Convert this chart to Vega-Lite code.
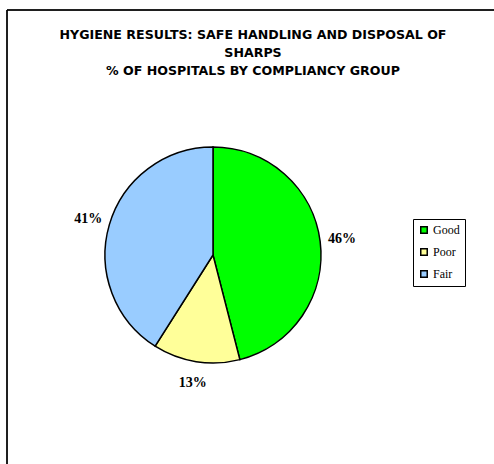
{
  "$schema": "https://vega.github.io/schema/vega-lite/v6.json",
  "width": 412,
  "height": 490,
  "autosize": {"type": "none"},
  "padding": {"left": 7, "top": 10, "right": 75, "bottom": 0},
  "background": "white",
  "view": {"stroke": null},
  "title": {
    "text": ["HYGIENE RESULTS: SAFE HANDLING AND DISPOSAL OF", "SHARPS", "% OF HOSPITALS BY COMPLIANCY GROUP"],
    "font": "DejaVu Sans",
    "fontSize": 12.6,
    "fontWeight": "bold",
    "color": "black",
    "lineHeight": 18,
    "anchor": "middle",
    "frame": "group",
    "dx": 40,
    "offset": -68
  },
  "data": {
    "values": [
      {"group": "Good", "pct": 46, "label": "46%", "idx": 1},
      {"group": "Poor", "pct": 13, "label": "13%", "idx": 2},
      {"group": "Fair", "pct": 41, "label": "41%", "idx": 3}
    ]
  },
  "layer": [
    {
      "mark": {"type": "rule", "color": "black", "strokeWidth": 1},
      "encoding": {"x": {"value": 0}, "y": {"value": 0}, "y2": {"value": 490}}
    },
    {
      "mark": {"type": "rule", "color": "black", "strokeWidth": 1},
      "encoding": {"y": {"value": 0}, "x": {"value": 0}, "x2": {"value": 490}}
    },
    {
      "mark": {"type": "arc", "outerRadius": 108, "stroke": "black", "strokeWidth": 1.5},
      "encoding": {
        "theta": {"field": "pct", "type": "quantitative", "stack": true},
        "order": {"field": "idx", "type": "quantitative"},
        "color": {
          "field": "group",
          "type": "nominal",
          "scale": {"domain": ["Good", "Poor", "Fair"], "range": ["#00FF00", "#FFFF99", "#99CCFF"]},
          "legend": {
            "title": null,
            "orient": "none",
            "legendX": 406,
            "legendY": 209,
            "symbolType": "square",
            "symbolSize": 42,
            "symbolStrokeColor": "black",
            "symbolStrokeWidth": 1.5,
            "labelFont": "Liberation Serif",
            "labelFontSize": 12,
            "labelColor": "black",
            "labelOffset": 3,
            "rowPadding": 8,
            "padding": 5,
            "strokeColor": "black",
            "fillColor": "white"
          }
        }
      }
    },
    {
      "mark": {"type": "text", "font": "Liberation Serif", "fontSize": 14, "fontWeight": "bold", "color": "black"},
      "encoding": {
        "theta": {"field": "pct", "type": "quantitative", "stack": true},
        "order": {"field": "idx", "type": "quantitative"},
        "radius": {"value": 130},
        "text": {"field": "label", "type": "nominal"}
      }
    }
  ]
}
